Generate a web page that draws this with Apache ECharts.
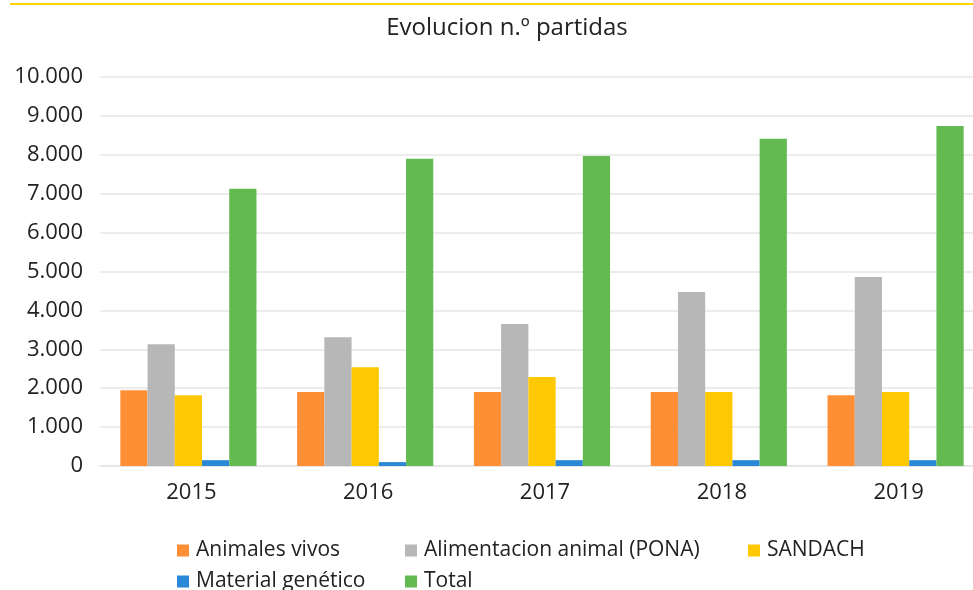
<!DOCTYPE html>
<html>
<head>
<meta charset="utf-8">
<script src="https://cdn.jsdelivr.net/npm/echarts@6/dist/echarts.min.js"></script>
<style>
  html, body { margin: 0; padding: 0; background: #fff; }
  #wrap { position: relative; width: 973px; height: 590px; overflow: hidden; }
  #topline { position: absolute; left: 10px; right: 0; top: 3px; height: 2px; background: #ffd200; }
  /* el grafico original se corta por la derecha */
  #chart { width: 995px; height: 590px; }
</style>
</head>
<body>
<div id="wrap">
  <div id="chart"></div>
  <div id="topline"></div>
</div>
<script>
// datos
const years = ['2015', '2016', '2017', '2018', '2019'];
const animalesVivos = [1950, 1900, 1900, 1900, 1820];
const alimentacionAnimal = [3130, 3310, 3650, 4470, 4860];
const sandach = [1820, 2540, 2285, 1900, 1900];
const materialGenetico = [150, 100, 150, 150, 150];
const total = [7125, 7900, 7970, 8410, 8740];

const seriesNames = ['Animales vivos', 'Alimentacion animal (PONA)', 'SANDACH', 'Material genético', 'Total'];
const seriesData = [animalesVivos, alimentacionAnimal, sandach, materialGenetico, total];
const colors = ['#ff8f35', '#b7b7b7', '#ffc800', '#2a88d6', '#62ba51'];

const font = '"Open Sans", "Noto Sans", sans-serif';

const chart = echarts.init(document.getElementById('chart'));

// miles con punto
const fmt = (v) => String(v).replace(/\B(?=(\d{3})+(?!\d))/g, '.');

const legendBase = {
  orient: 'vertical',
  top: 540,
  height: 120,
  icon: 'rect',
  itemWidth: 12,
  itemHeight: 12,
  itemGap: 10,
  padding: 0,
  selectedMode: false,
  textStyle: { fontFamily: font, fontSize: 21, color: '#222', padding: [0, 0, 0, 2] }
};

const option = {
  animation: false,
  color: colors,
  title: {
    text: 'Evolucion n.º partidas',
    left: 502,
    textAlign: 'center',
    top: 11,
    textStyle: { fontFamily: font, fontSize: 24, fontWeight: 'normal', color: '#222' }
  },
  legend: [
    Object.assign({}, legendBase, { left: 177, data: [seriesNames[0], seriesNames[3]] }),
    Object.assign({}, legendBase, { left: 405, data: [seriesNames[1], seriesNames[4]] }),
    Object.assign({}, legendBase, { left: 748, data: [seriesNames[2]] })
  ],
  grid: { left: 100, top: 77, width: 884, height: 389 },
  xAxis: {
    type: 'category',
    data: years,
    axisTick: { show: false },
    axisLine: { show: true, lineStyle: { color: '#e3e3e3', width: 1.5 } },
    axisLabel: { fontFamily: font, fontSize: 22, color: '#222', margin: 16, padding: [0, 0, 0, 6] }
  },
  yAxis: {
    type: 'value',
    min: 0,
    max: 10000,
    interval: 1000,
    axisLine: { show: false },
    axisTick: { show: false },
    splitLine: { lineStyle: { color: '#e6e6e6', width: 1.5 } },
    axisLabel: { fontFamily: font, fontSize: 22, color: '#222', margin: 17, formatter: fmt }
  },
  series: seriesNames.map((name, i) => ({
    name: name,
    type: 'bar',
    data: seriesData[i],
    barGap: '0%',
    barCategoryGap: '23%',
    itemStyle: { color: colors[i] }
  }))
};

chart.setOption(option);
</script>
</body>
</html>
